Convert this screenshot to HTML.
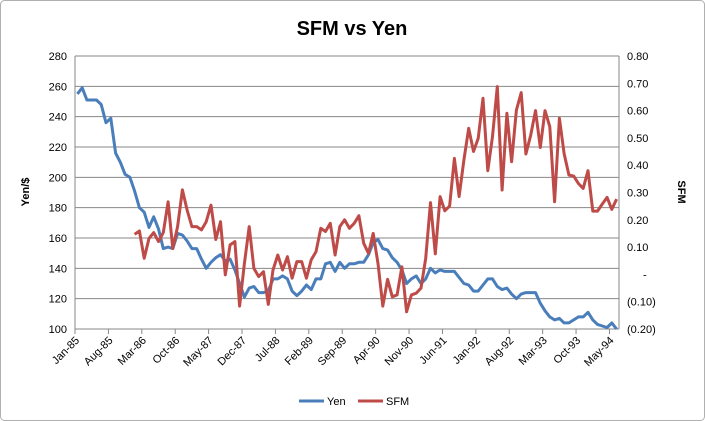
<!DOCTYPE html>
<html><head><meta charset="utf-8"><style>
body{margin:0;background:#fff}
svg{display:block;font-family:"Liberation Sans",sans-serif}
</style></head><body>
<svg id="chart" width="705" height="421" xmlns="http://www.w3.org/2000/svg">
<rect x="0.5" y="0.5" width="704" height="420" rx="4" fill="#fff" stroke="#b0b0b0"/>
<text x="352" y="35" text-anchor="middle" font-size="20" font-weight="bold" fill="#000">SFM vs Yen</text>
<text transform="translate(29,192) rotate(-90)" text-anchor="middle" font-size="11" font-weight="bold">Yen/$</text>
<text transform="translate(678,192) rotate(90)" text-anchor="middle" font-size="11" font-weight="bold">SFM</text>
<g id="grid"></g><g id="axes"></g><g id="series"></g>
<g>
<line x1="299" y1="401" x2="324" y2="401" stroke="#4a7ebb" stroke-width="3"/>
<text x="327" y="405" font-size="11">Yen</text>
<line x1="358" y1="401" x2="383" y2="401" stroke="#be4b48" stroke-width="3"/>
<text x="386" y="405" font-size="11">SFM</text>
</g>
</svg>
<script>
const yen=[255,259,251,251,251,248,236,239,216,210,202,200,191,180,177,167,174,166,153,154,153,163,162,158,153,153,146,140,144,147,149,145,146,139,130,121,127,128,124,124,125,133,133,135,133,125,122,125,129,126,133,133,143,144,138,144,140,143,143,144,144,149,157,159,153,152,147,144,139,130,133,135,130,133,140,137,139,138,138,138,134,130,129,125,125,129,133,133,128,126,127,123,120,123,124,124,124,117,112,108,106,107,104,104,106,108,108,111,106,103,102,101,104,100];
const sfm=[null,null,null,null,null,null,null,null,null,null,null,null,0.147,0.159,0.059,0.132,0.153,0.12,0.153,0.266,0.095,0.175,0.31,0.236,0.175,0.175,0.163,0.193,0.254,0.128,0.193,-0.002,0.108,0.12,-0.116,0.04,0.175,0.022,-0.008,0.01,-0.11,0.016,0.071,0.016,0.065,-0.014,0.047,0.047,-0.014,0.053,0.083,0.169,0.157,0.187,0.071,0.175,0.20,0.169,0.187,0.215,0.114,0.077,0.15,0.04,-0.116,-0.018,-0.082,-0.075,0.028,-0.137,-0.075,-0.069,-0.05,0.059,0.263,0.075,0.285,0.233,0.25,0.425,0.285,0.419,0.535,0.45,0.498,0.645,0.38,0.505,0.688,0.309,0.59,0.413,0.602,0.666,0.441,0.51,0.6,0.465,0.6,0.541,0.266,0.572,0.443,0.364,0.36,0.333,0.315,0.38,0.232,0.232,0.258,0.282,0.238,0.276];
const xLabels=["Jan-85","Aug-85","Mar-86","Oct-86","May-87","Dec-87","Jul-88","Feb-89","Sep-89","Apr-90","Nov-90","Jun-91","Jan-92","Aug-92","Mar-93","Oct-93","May-94"];
const yTicks=[100,120,140,160,180,200,220,240,260,280];
const y2Ticks=[-0.2,-0.1,0,0.1,0.2,0.3,0.4,0.5,0.6,0.7,0.8];
const NS="http://www.w3.org/2000/svg";
const L=75,R=619,T=56,B=329,N=yen.length,w=(R-L)/N;
const x=i=>L+(i+0.5)*w;
const y=v=>B-(v-100)/180*(B-T);
const y2=v=>B-(v+0.2)/1.0*(B-T);
function mk(tag,attrs,parent){const e=document.createElementNS(NS,tag);for(const k in attrs)e.setAttribute(k,attrs[k]);parent.appendChild(e);return e;}
const grid=document.getElementById('grid'),axes=document.getElementById('axes'),ser=document.getElementById('series');
yTicks.forEach(t=>{
 const g=mk('line',{x1:L,x2:R,y1:y(t),y2:y(t),stroke:'#878787','stroke-width':1},grid);
 
 
 const lb=mk('text',{x:L-8,y:y(t)+4,'text-anchor':'end','font-size':11},axes);
 lb.textContent=t;
 
 
});
y2Ticks.forEach(t=>{
 const lb=mk('text',{x:R+8,y:y2(t)+4,'font-size':11},axes);
 const a=Math.abs(t).toFixed(2);
 lb.textContent=t<0?'('+a+')':(t===0?'-':a);
 if(t===0)lb.setAttribute('x',R+24);
 
 
});
let ax=mk('line',{x1:L,x2:L,y1:T,y2:B,stroke:'#878787'},axes);


ax=mk('line',{x1:R,x2:R,y1:T,y2:B,stroke:'#878787'},axes);


xLabels.forEach((s,k)=>{
 const tx=L+k*7*w;
 const tk=mk('line',{x1:tx,x2:tx,y1:B,y2:B+5,stroke:'#878787'},axes);
 
 
 const lb=mk('text',{transform:`translate(${tx+5},${B+12}) rotate(-45)`,'text-anchor':'end','font-size':11},axes);
 lb.textContent=s;
 
 
});
function line(arr,fy,color,name){
 let d='',pen=false;
 arr.forEach((v,i)=>{if(v===null){pen=false;return;}d+=(pen?'L':'M')+x(i).toFixed(1)+','+fy(v).toFixed(1);pen=true;});
 const p=mk('path',{d:d,fill:'none',stroke:color,'stroke-width':3,'stroke-linejoin':'round'},ser);
 
 
}
line(yen,y,'#4a7ebb','yen-line');
line(sfm,y2,'#be4b48','sfm-line');
</script>
</body></html>
